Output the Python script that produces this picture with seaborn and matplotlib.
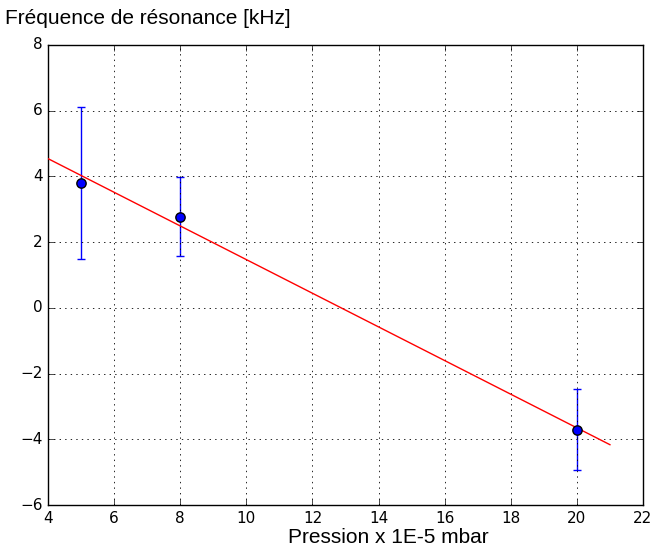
import numpy as np
import pandas as pd
import matplotlib
matplotlib.use("Agg")
import matplotlib.pyplot as plt
import seaborn as sns

# Measurements: pressure (x 1E-5 mbar) vs resonance frequency shift (kHz)
pression = [5, 8, 20]
frequence = [3.80, 2.78, -3.71]
incertitude = [2.31, 1.19, 1.23]

# Extent of the fitted line along the pressure axis
fit_x_range = [4, 21]

xticks = [4, 6, 8, 10, 12, 14, 16, 18, 20, 22]
yticks = [-6, -4, -2, 0, 2, 4, 6, 8]

plt.style.use("classic")
plt.rcParams["figure.facecolor"] = "white"
plt.rcParams["savefig.facecolor"] = "white"

df = pd.DataFrame({"pression": pression, "frequence": frequence})

# Linear least-squares fit of the measured points
pente, ordonnee = np.polyfit(pression, frequence, 1)
fit_x = np.array(fit_x_range, dtype=float)
fit_df = pd.DataFrame({"x": fit_x, "y": ordonnee + pente * fit_x})

fig = plt.figure(figsize=(6.54, 5.54), dpi=100)
ax = fig.add_axes([48 / 654, 1 - 505 / 554, (643 - 48) / 654, (505 - 45) / 554])

ax.errorbar(pression, frequence, yerr=incertitude, fmt="none", ecolor="b",
            elinewidth=1.0, capsize=3, capthick=1.0, zorder=2)
sns.lineplot(data=fit_df, x="x", y="y", color="r", linewidth=1.0, ax=ax, zorder=3)
sns.scatterplot(data=df, x="pression", y="frequence", color="b", edgecolor="k",
                s=45, linewidth=1.0, ax=ax, zorder=4)

ax.set_xlim(4, 22)
ax.set_ylim(-6, 8)
ax.set_xticks(xticks)
ax.set_yticks(yticks)
ax.tick_params(labelsize=11, direction="in", length=4, top=True, right=True)
ax.grid(True, color="k", linestyle=":", linewidth=0.6)

ax.set_ylabel("")
ax.set_xlabel("Pression x 1E-5 mbar", family="Liberation Sans", fontsize=15,
              va="baseline")
ax.xaxis.set_label_coords((388 - 48) / 595, (505 - 543) / 460)

fig.text(5 / 654, 1 - 24 / 554, "Fréquence de résonance [kHz]",
         family="Liberation Sans", fontsize=15, ha="left", va="baseline")

fig.savefig("out.png", dpi=100)
